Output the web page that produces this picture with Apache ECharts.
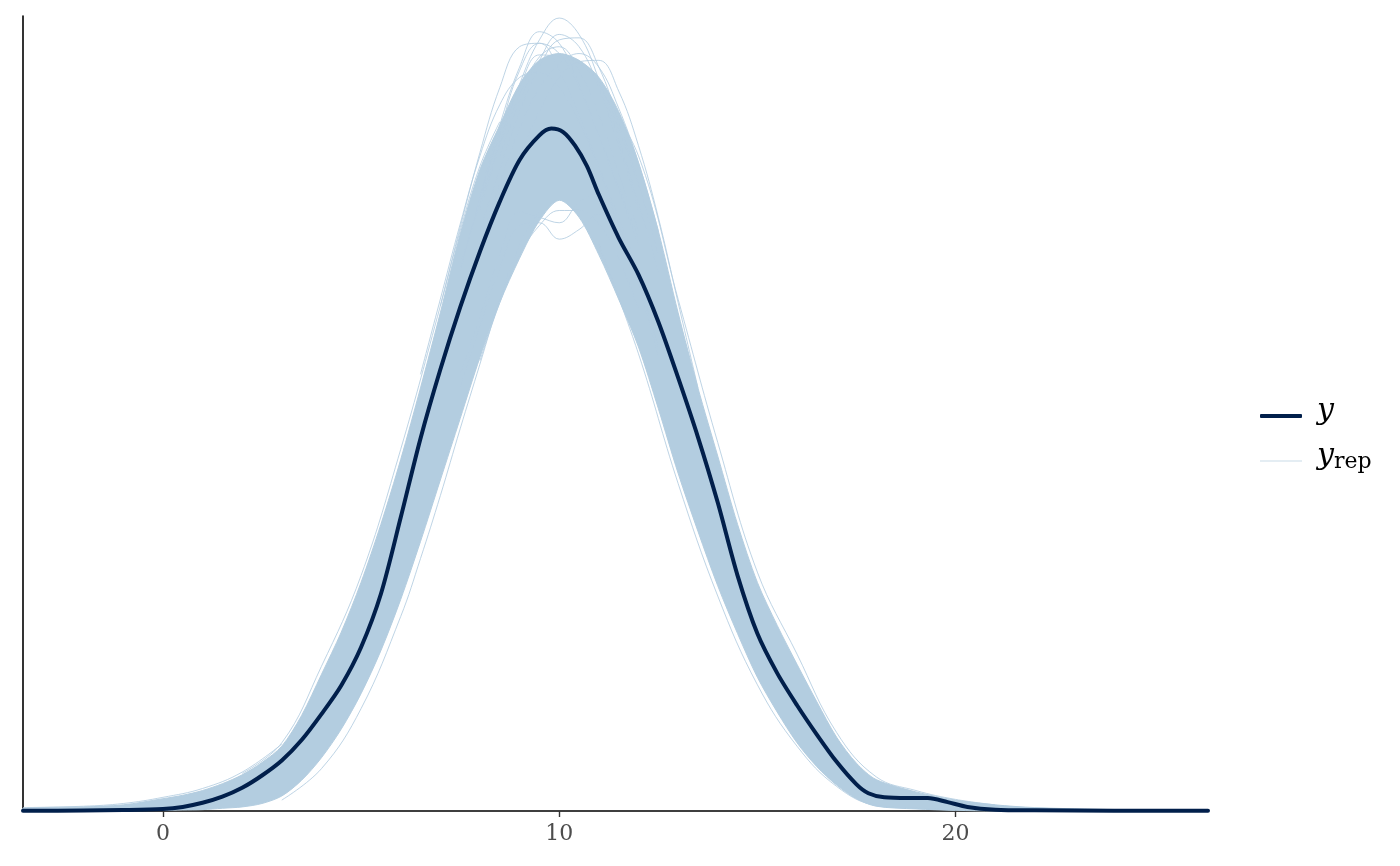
<!DOCTYPE html>
<html>
<head>
<meta charset="utf-8">
<script src="https://cdn.jsdelivr.net/npm/echarts@6/dist/echarts.min.js"></script>
<style>html,body{margin:0;padding:0;background:#fff;}#chart{width:1400px;height:866px;}</style>
</head>
<body>
<div id="chart"></div>
<script>
// ---- observed density y ----
const yX = [-3.53, -2, -1, 0, 0.5, 1, 1.5, 2, 2.5, 3, 3.5, 4, 4.5, 5, 5.5, 6, 6.5, 7, 7.5, 8, 8.5, 9, 9.5, 9.8, 10.1, 10.4, 10.7, 11, 11.5, 12, 12.5, 13, 13.5, 14, 14.5, 15, 15.5, 16, 16.5, 17, 17.5, 17.8, 18.2, 18.8, 19.3, 19.8, 20.3, 21, 22, 24, 26.37];
const yD = [0.00003, 0.00007, 0.00014, 0.0003, 0.0006, 0.0012, 0.0021, 0.0034, 0.0052, 0.0074, 0.0104, 0.0142, 0.0184, 0.0240, 0.0318, 0.0430, 0.0546, 0.0647, 0.0738, 0.0820, 0.0893, 0.0954, 0.0990, 0.1000, 0.0995, 0.0975, 0.0945, 0.0903, 0.0840, 0.0786, 0.0717, 0.0635, 0.0548, 0.0452, 0.0345, 0.0260, 0.0202, 0.0155, 0.0112, 0.0072, 0.0039, 0.0026, 0.0020, 0.0019, 0.0019, 0.0013, 0.0006, 0.0002, 0.0001, 0.00005, 0.00003];

// ---- dense core of the replicated densities (y_rep): lower / upper envelope ----
const bandX    = [-3.53, -2, -1, 0, 0.5, 1, 1.5, 2, 2.5, 3, 3.5, 4, 4.5, 5, 5.5, 6, 6.5, 7, 7.5, 8, 8.5, 9, 9.5, 10, 10.5, 11, 11.5, 12, 12.5, 13, 13.5, 14, 14.5, 15, 15.5, 16, 16.5, 17, 17.5, 18, 19, 20, 21, 22, 24, 26.37];
const bandLow  = [0, 0, 0.00005, 0.0001, 0.00015, 0.0002, 0.0004, 0.0006, 0.0011, 0.0022, 0.0045, 0.0078, 0.0120, 0.0172, 0.0235, 0.0310, 0.0395, 0.0485, 0.0575, 0.0665, 0.0745, 0.0810, 0.0865, 0.0895, 0.0870, 0.0815, 0.0750, 0.0680, 0.0590, 0.0495, 0.0410, 0.0330, 0.0260, 0.0196, 0.0145, 0.0100, 0.0065, 0.0038, 0.0018, 0.0007, 0.0003, 0.0001, 0, 0, 0, 0];
const bandHigh = [0.0004, 0.0006, 0.0009, 0.0018, 0.0023, 0.0030, 0.0040, 0.0053, 0.0071, 0.0095, 0.0140, 0.0200, 0.0262, 0.0335, 0.0420, 0.0515, 0.0620, 0.0730, 0.0845, 0.0940, 0.1005, 0.1065, 0.1100, 0.1110, 0.1100, 0.1075, 0.1025, 0.0950, 0.0850, 0.0730, 0.0620, 0.0520, 0.0420, 0.0335, 0.0272, 0.0215, 0.0160, 0.0108, 0.0070, 0.0046, 0.0028, 0.0016, 0.0009, 0.0005, 0.0002, 0.0001];

// ---- individual y_rep curves that stand out of the core ----
const repA = [[7.5,0.080],[8,0.089],[8.5,0.098],[9,0.1065],[9.5,0.1130],[10,0.1162],[10.5,0.1138],[11,0.1072],[11.5,0.0985],[12,0.0890],[12.5,0.0790]];
const repB = [[7.5,0.079],[8,0.090],[8.5,0.1005],[9,0.1090],[9.5,0.1142],[10,0.1125],[10.5,0.1065],[11,0.0990],[11.5,0.0910],[12,0.0830]];
const repC = [[8,0.085],[8.5,0.0940],[9,0.1025],[9.5,0.1090],[10,0.1130],[10.5,0.1133],[11,0.1090],[11.5,0.1010],[12,0.0920],[12.5,0.0815]];
const repD = [[8,0.081],[8.5,0.0885],[9,0.0960],[9.5,0.1025],[10,0.1075],[10.5,0.1098],[11,0.1100],[11.5,0.1055],[12,0.0975],[12.5,0.0870],[13,0.0745],[13.5,0.062]];
const repE = [[6.5,0.064],[7,0.0750],[7.5,0.0860],[8,0.0960],[8.5,0.1035],[9,0.1075],[9.5,0.1082],[10,0.1060],[10.5,0.1010],[11,0.0940],[11.5,0.0860],[12,0.0780]];
const repF = [[8,0.0880],[8.5,0.0975],[9,0.1050],[9.5,0.1105],[10,0.1120],[10.5,0.1085],[11,0.1020],[11.5,0.0935],[12,0.0850]];
const repP = [[7.5,0.0795],[8,0.0895],[8.5,0.0995],[9,0.1085],[9.5,0.1125],[10,0.1110],[10.5,0.1060],[11,0.0990],[11.5,0.0915],[12,0.0840]];
const repQ = [[8,0.0830],[8.5,0.0920],[9,0.1000],[9.5,0.1060],[10,0.1095],[10.5,0.1110],[11,0.1090],[11.5,0.1030],[12,0.0950],[12.5,0.0850]];
const repR = [[7,0.0740],[7.5,0.0855],[8,0.0965],[8.5,0.1060],[9,0.1120],[9.5,0.1125],[10,0.1085],[10.5,0.1020],[11,0.0945],[11.5,0.0870],[12,0.0795]];
const repS = [[8.5,0.0960],[9,0.1040],[9.5,0.1100],[10,0.1138],[10.5,0.1120],[11,0.1060],[11.5,0.0975],[12,0.0880]];
const repT = [[8,0.0900],[8.5,0.0990],[9,0.1060],[9.5,0.1108],[10,0.1105],[10.5,0.1095],[11,0.1065],[11.5,0.1000],[12,0.0915]];
const repG = [[7.5,0.062],[8,0.071],[8.5,0.0795],[9,0.0858],[9.5,0.0862],[10,0.0838],[10.5,0.0852],[11,0.0875],[11.5,0.0845],[12,0.0770],[12.5,0.0665]];
const repH = [[7.5,0.064],[8,0.0725],[8.5,0.0815],[9,0.0878],[9.5,0.0870],[10,0.0862],[10.5,0.0892],[11,0.0905],[11.5,0.0858],[12,0.0780],[12.5,0.0680]];
const repI = [[8,0.066],[8.5,0.0745],[9,0.0815],[9.5,0.0858],[10,0.0880],[10.5,0.0880],[11,0.0860],[11.5,0.0810],[12,0.0735]];
const repJ = [[3,0.0016],[4,0.0062],[5,0.0150],[6,0.0285],[6.5,0.0370],[7,0.0462],[7.5,0.0560],[8,0.0655],[8.5,0.0750],[9,0.0830],[9.5,0.0880]];
const repK = [[2,0.0055],[3,0.0100],[4,0.0212],[5,0.0345],[6,0.0530],[7,0.0740],[7.5,0.0850],[8,0.0945],[8.5,0.1010]];
const repL = [[11,0.1060],[12,0.0960],[13,0.0750],[14,0.0540],[15,0.0350],[16,0.0230],[17,0.0115],[18,0.0050],[19,0.0030],[20,0.0017],[21,0.0009]];
const repM = [[11,0.0830],[12,0.0670],[13,0.0480],[14,0.0315],[15,0.0185],[16,0.0095],[17,0.0036],[18,0.0008],[19,0.0004],[20,0.0001]];
const repN = [[-3.53,0.0005],[-2,0.0007],[-1,0.0011],[0,0.0020],[1,0.0033],[2,0.0057],[3,0.0098]];
const repCurves = [repA, repB, repC, repD, repE, repF, repP, repQ, repR, repS, repT, repG, repH, repI, repJ, repK, repL, repM, repN];

// ---- axis ----
const xTicks = [0, 10, 20];
const xMin = -3.53, xMax = 26.37, yMax = 0.1165;

const DARK = '#011f4b';
const LIGHT = '#b3cde0';

const chart = echarts.init(document.getElementById('chart'), null, {renderer: 'canvas'});

const yData = yX.map((x, i) => [x, yD[i]]);

const series = [];
// dense band as polygon through the axes' scales
series.push({
  name: 'yrep',
  type: 'custom',
  coordinateSystem: 'cartesian2d',
  data: [[bandX[0], bandLow[0]]],
  encode: {x: 0, y: 1},
  itemStyle: {color: LIGHT},
  silent: true,
  z: 1,
  renderItem: function (params, api) {
    const up = [], lo = [];
    for (let i = 0; i < bandX.length; i++) {
      up.push(api.coord([bandX[i], bandHigh[i]]));
      lo.push(api.coord([bandX[i], bandLow[i]]));
    }
    return {
      type: 'polygon',
      shape: {points: up.concat(lo.slice().reverse()), smooth: 0.3},
      style: {fill: LIGHT, stroke: LIGHT, lineWidth: 1}
    };
  }
});
repCurves.forEach(function (c) {
  series.push({
    name: 'yrep',
    type: 'line',
    data: c,
    smooth: 0.4,
    symbol: 'none',
    silent: true,
    z: 2,
    itemStyle: {color: LIGHT},
    lineStyle: {color: LIGHT, width: 1, opacity: 0.85}
  });
});
series.push({
  name: 'y',
  type: 'line',
  data: yData,
  smooth: 0.3,
  symbol: 'none',
  silent: true,
  z: 3,
  itemStyle: {color: DARK},
  lineStyle: {color: DARK, width: 4, cap: 'round', join: 'round'}
});

const legendRich = {
  i: {fontFamily: 'DejaVu Serif', fontStyle: 'italic', fontSize: 30, color: '#000', lineHeight: 34},
  s: {fontFamily: 'DejaVu Serif', fontSize: 22, color: '#000', lineHeight: 34, verticalAlign: 'bottom'}
};

const option = {
  animation: false,
  backgroundColor: '#fff',
  grid: {left: 23, right: 192, top: 16, bottom: 55, containLabel: false},
  xAxis: {
    type: 'value', min: xMin, max: xMax,
    axisLine: {show: true, onZero: false, lineStyle: {color: '#000', width: 1.6}},
    axisTick: {show: true, customValues: xTicks, length: 6, lineStyle: {color: '#333', width: 1.4}},
    axisLabel: {show: true, customValues: xTicks, fontFamily: 'DejaVu Serif', fontSize: 22, color: '#4d4d4d', margin: 12},
    splitLine: {show: false}
  },
  yAxis: {
    type: 'value', min: 0, max: yMax,
    axisLine: {show: true, onZero: false, lineStyle: {color: '#000', width: 1.6}},
    axisTick: {show: false},
    axisLabel: {show: false},
    splitLine: {show: false}
  },
  legend: [
    {
      data: [{name: 'y', icon: 'roundRect'}],
      left: 1260, top: 396, padding: 0, itemGap: 0,
      itemWidth: 42, itemHeight: 4,
      itemStyle: {borderWidth: 0},
      formatter: function () { return '{i|y}'; },
      textStyle: {rich: legendRich, padding: [0, 0, 10, 10]}
    },
    {
      data: [{name: 'yrep', icon: 'rect', itemStyle: {color: '#c9dbe8'}}],
      left: 1260, top: 441, padding: 0, itemGap: 0,
      itemWidth: 42, itemHeight: 1,
      itemStyle: {borderWidth: 0},
      formatter: function () { return '{i|y}{s|rep}'; },
      textStyle: {rich: legendRich, padding: [0, 0, 10, 10]}
    }
  ],
  series: series
};
chart.setOption(option);
</script>
</body>
</html>
